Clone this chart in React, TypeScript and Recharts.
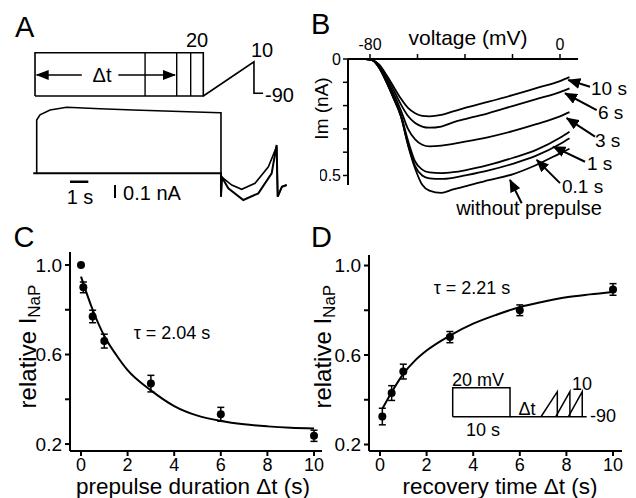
import React from 'react';
import {
  LineChart, Line, ComposedChart, Scatter, ErrorBar, XAxis, YAxis, ReferenceLine,
} from 'recharts';

const FONT = '"Liberation Sans", Arial, Helvetica, sans-serif';
const INK = '#000';

// ---- A: protocol schematic (schematic time units, mV) ----
const protoBoxX = [0, 0, 10, 10, 0];
const protoBoxY = [-90, 20, 20, -90, -90];
const prepulseStops = [6.54, 8.42, 9.25];
const rampX = [10, 13.01, 13.01, 13.55];
const rampY = [-90, -3, -83, -83];

// ---- A: current traces (s, nA) ----
const withPreT = [0, 0, 0.18, 0.73, 1.64, 3.46, 5.28, 7.83, 10.02, 10.07, 10.07, 10.12, 10.66, 11.2, 11.93, 12.66, 13.11, 13.17, 13.4, 13.66];
const withPreI = [0, 0.41, 0.45, 0.487, 0.508, 0.497, 0.487, 0.475, 0.466, 0.466, -0.18, -0.03, -0.09, -0.123, -0.077, 0.05, 0.205, -0.18, -0.103, -0.09];
const noPreT = [-0.19, 10.07, 10.07, 10.12, 10.47, 11.29, 12.11, 12.84, 13.11, 13.17, 13.4, 13.66];
const noPreI = [0, 0, -0.18, -0.03, -0.115, -0.205, -0.154, 0, 0.218, -0.18, -0.103, -0.09];

// ---- B: ramp currents (mV, nA shown downward) ----
const rampV = [-89, -82, -79, -76, -73, -70, -67, -64, -61, -58, -55, -50, -45, -40, -30, -20, -10, 0, 4];
const im10s = [0, 0, 0.005, 0.025, 0.07, 0.12, 0.17, 0.21, 0.233, 0.244, 0.246, 0.24, 0.225, 0.21, 0.183, 0.155, 0.125, 0.095, 0.078];
const im6s = [0, 0, 0.005, 0.03, 0.08, 0.135, 0.195, 0.245, 0.275, 0.29, 0.295, 0.29, 0.272, 0.258, 0.232, 0.202, 0.172, 0.142, 0.126];
const im3s = [0, 0, 0.005, 0.035, 0.09, 0.15, 0.22, 0.3, 0.345, 0.368, 0.375, 0.372, 0.364, 0.355, 0.335, 0.31, 0.28, 0.246, 0.228];
const im1s = [0, 0, 0.005, 0.04, 0.1, 0.165, 0.24, 0.35, 0.44, 0.475, 0.487, 0.49, 0.486, 0.478, 0.455, 0.425, 0.39, 0.338, 0.312];
const im01s = [0, 0, 0.005, 0.04, 0.1, 0.17, 0.245, 0.365, 0.46, 0.5, 0.512, 0.515, 0.51, 0.5, 0.478, 0.45, 0.415, 0.365, 0.34];
const imNoPre = [0, 0, 0.005, 0.04, 0.1, 0.17, 0.246, 0.37, 0.47, 0.54, 0.565, 0.575, 0.56, 0.547, 0.52, 0.495, 0.455, 0.405, 0.385];

const arrowTailV = [12.63, 15.45, 14.74, 10.53, 0, -16.13];
const arrowTailI = [0.119, 0.219, 0.333, 0.441, 0.533, 0.619];
const arrowTipV = [3.49, 2.11, 2.82, -2.82, -9.81, -21.05];
const arrowTipI = [0.09, 0.147, 0.254, 0.376, 0.433, 0.519];

// ---- C: inactivation vs prepulse duration ----
const durC = [0, 0.1, 0.5, 1, 3, 6, 10];
const relC = [1.0, 0.9, 0.77, 0.66, 0.47, 0.333, 0.237];
const semC = [0, 0.024, 0.028, 0.031, 0.037, 0.031, 0.025];
const fitCt = [0, 0.5, 1, 1.5, 2, 3, 4, 5, 6, 7, 8, 9, 10];
const fitCv = [0.948, 0.8, 0.683, 0.6, 0.53, 0.44, 0.37, 0.327, 0.303, 0.288, 0.279, 0.273, 0.27];

// ---- D: recovery ----
const recD = [0.1, 0.5, 1, 3, 6, 10];
const relD = [0.325, 0.43, 0.526, 0.68, 0.8, 0.893];
const semD = [0.037, 0.033, 0.033, 0.025, 0.024, 0.026];
const fitDt = [0.1, 0.5, 1, 1.5, 2, 3, 4, 5, 6, 7, 8, 9, 10];
const fitDv = [0.36, 0.434, 0.516, 0.575, 0.62, 0.687, 0.74, 0.78, 0.814, 0.838, 0.858, 0.871, 0.882];

// D inset protocol, drawn in D's axes
const insetBoxX = [3.12, 3.12, 5.58, 5.58, 3.12];
const insetBoxY = [0.324, 0.454, 0.454, 0.324, 0.324];
const insetBaseX = [5.58, 8.87];
const insetRampStart = [6.91, 7.54, 8.08];
const insetRampEnd = [7.61, 8.15, 8.68];

const xy = (xs: number[], ys: number[]) => xs.map((x, i) => ({ x, y: ys[i] }));
const pts = (xs: number[], ys: number[], es: number[]) => xs.map((x, i) => ({ x, y: ys[i], err: es[i] }));

const seg = (data: any[], w = 1.6, extra: any = {}) => (
  <Line data={data} dataKey="y" type="linear" stroke={INK} strokeWidth={w} dot={false}
    isAnimationActive={false} legendType="none" {...extra} />
);

const DotShape = (p: any) => <circle cx={p.cx} cy={p.cy} r={4} fill={INK} />;

const xTickFont = { fontSize: 18, fill: INK, fontFamily: FONT };
const yTickFont = { fontSize: 19, fill: INK, fontFamily: FONT };
const axisStroke = { stroke: INK, strokeWidth: 2 };
const showY = (v: number) => (v === 0.2 || v === 0.6 || v === 1 ? v.toFixed(1) : '');

const Txt = ({ x, y, size, anchor = 'middle', rotate = 0, children }: any) => (
  <text
    x={rotate ? 0 : x}
    y={rotate ? 0 : y}
    transform={rotate ? `translate(${x},${y}) rotate(${rotate})` : undefined}
    fontSize={size}
    fontFamily={FONT}
    textAnchor={anchor}
    fill={INK}
  >
    {children}
  </text>
);

const PanelA = () => (
  <>
    <div style={{ position: 'absolute', left: 0, top: 30 }}>
      <LineChart width={320} height={80} margin={{ top: 0, right: 0, bottom: 0, left: 0 }}>
        <XAxis type="number" dataKey="x" domain={[-2.08, 16.934]} hide />
        <YAxis type="number" dataKey="y" domain={[-125.57, 77.7]} hide />
        {seg(xy(protoBoxX, protoBoxY), 1.6)}
        {prepulseStops.map((s) => (
          <React.Fragment key={s}>{seg(xy([s, s], [-90, 20]), 1.4)}</React.Fragment>
        ))}
        {seg(xy(rampX, rampY), 1.6)}
        {seg(xy([0.1, 2.78], [-36.6, -36.6]), 1.6, { markerStart: 'url(#headStart)' })}
        {seg(xy([4.95, 8.32], [-36.6, -36.6]), 1.6, { markerEnd: 'url(#head)' })}
      </LineChart>
    </div>
    <div style={{ position: 'absolute', left: 0, top: 100 }}>
      <LineChart width={320} height={120} margin={{ top: 0, right: 0, bottom: 0, left: 0 }}>
        <XAxis type="number" dataKey="x" domain={[-2.0055, 15.481]} hide />
        <YAxis type="number" dataKey="y" domain={[-0.359, 0.5638]} hide />
        {seg(xy(noPreT, noPreI), 2)}
        {seg(xy(withPreT, withPreI), 1.6)}
        {seg(xy([1.82, 2.82], [-0.065, -0.065]), 2.5)}
        {seg(xy([4.28, 4.28], [-0.09, -0.19]), 2)}
      </LineChart>
    </div>
  </>
);

const PanelB = () => {
  const series = [im10s, im6s, im3s, im1s, im01s, imNoPre];
  return (
    <div style={{ position: 'absolute', left: 320, top: 0 }}>
      <LineChart width={316} height={240} margin={{ top: 0, right: 0, bottom: 0, left: 0 }}>
        <XAxis
          type="number" dataKey="x" orientation="top" domain={[-89.26, 32]}
          ticks={[-80, -60, -40, -20, 0]} interval={0}
          tickFormatter={(v: number) => (v === -80 || v === 0 ? String(v) : '')}
          axisLine={false} tickLine={{ stroke: INK, strokeWidth: 1.5 }}
          tickSize={5} tickMargin={4} height={59}
          tick={{ fontSize: 16, fill: INK, fontFamily: FONT }}
        />
        <YAxis
          type="number" dataKey="y" reversed domain={[0, 0.777]}
          ticks={[0, 0.1, 0.2, 0.3, 0.4, 0.5]} interval={0}
          tickFormatter={(v: number) => (v === 0 ? '0' : v === 0.5 ? '0.5' : '')}
          axisLine={false} tickLine={{ stroke: INK, strokeWidth: 1.5 }}
          tickSize={5} tickMargin={2} width={28}
          tick={{ fontSize: 16, fill: INK, fontFamily: FONT }}
        />
        <ReferenceLine segment={[{ x: -89.26, y: 0 }, { x: 7.6, y: 0 }]} stroke={INK} strokeWidth={2} ifOverflow="visible" />
        <ReferenceLine segment={[{ x: -89.26, y: 0 }, { x: -89.26, y: 0.541 }]} stroke={INK} strokeWidth={2} ifOverflow="visible" />
        {series.map((s, i) => (
          <Line key={i} data={xy(rampV, s)} dataKey="y" type="monotone" stroke={INK}
            strokeWidth={1.8} dot={false} isAnimationActive={false} />
        ))}
        {arrowTipV.map((v, i) => (
          <React.Fragment key={'a' + i}>
            {seg(xy([arrowTailV[i], v], [arrowTailI[i], arrowTipI[i]]), 2, { markerEnd: 'url(#headB)' })}
          </React.Fragment>
        ))}
      </LineChart>
    </div>
  );
};

const PanelC = () => (
  <div style={{ position: 'absolute', left: 0, top: 240 }}>
    <ComposedChart width={324} height={258} margin={{ top: 12, right: 2, bottom: 0, left: 0 }}>
      <XAxis type="number" dataKey="x" domain={[-0.472, 10.343]} ticks={[0, 2, 4, 6, 8, 10]}
        interval={0} height={47} tickSize={5} tickMargin={2}
        axisLine={axisStroke} tickLine={axisStroke} tick={xTickFont} />
      <YAxis type="number" dataKey="y" domain={[0.169, 1.058]} ticks={[0.2, 0.4, 0.6, 0.8, 1]}
        interval={0} tickFormatter={showY} width={70} tickSize={5} tickMargin={3}
        axisLine={axisStroke} tickLine={axisStroke} tick={yTickFont} />
      <Line data={xy(fitCt, fitCv)} dataKey="y" type="monotone" stroke={INK} strokeWidth={2}
        dot={false} isAnimationActive={false} />
      <Scatter data={pts(durC, relC, semC)} shape={DotShape} isAnimationActive={false}>
        <ErrorBar dataKey="err" direction="y" width={3.5} stroke={INK} strokeWidth={1.5} isAnimationActive={false} />
      </Scatter>
    </ComposedChart>
  </div>
);

const PanelD = () => (
  <div style={{ position: 'absolute', left: 320, top: 240 }}>
    <ComposedChart width={316} height={258} margin={{ top: 15, right: 14, bottom: 0, left: 0 }}>
      <XAxis type="number" dataKey="x" domain={[-0.472, 10.386]} ticks={[0, 2, 4, 6, 8, 10]}
        interval={0} height={47} tickSize={5} tickMargin={2}
        axisLine={axisStroke} tickLine={axisStroke} tick={xTickFont} />
      <YAxis type="number" dataKey="y" domain={[0.171, 1.047]} ticks={[0.2, 0.4, 0.6, 0.8, 1]}
        interval={0} tickFormatter={showY} width={49} tickSize={5} tickMargin={3}
        axisLine={axisStroke} tickLine={axisStroke} tick={yTickFont} />
      <Line data={xy(fitDt, fitDv)} dataKey="y" type="monotone" stroke={INK} strokeWidth={2}
        dot={false} isAnimationActive={false} />
      <Scatter data={pts(recD, relD, semD)} shape={DotShape} isAnimationActive={false}>
        <ErrorBar dataKey="err" direction="y" width={3.5} stroke={INK} strokeWidth={1.5} isAnimationActive={false} />
      </Scatter>
      {seg(xy(insetBoxX, insetBoxY), 1.5)}
      {seg(xy(insetBaseX, [0.324, 0.324]), 1.5)}
      {insetRampStart.map((s, i) => (
        <React.Fragment key={'r' + i}>
          {seg(xy([s, insetRampEnd[i], insetRampEnd[i]], [0.324, 0.436, 0.324]), 1.5)}
        </React.Fragment>
      ))}
    </ComposedChart>
  </div>
);

const Overlay = () => (
  <svg width={636} height={498} style={{ position: 'absolute', left: 0, top: 0, pointerEvents: 'none' }}>
    <defs>
      <marker id="head" viewBox="0 0 13 10" refX={12} refY={5} markerWidth={13} markerHeight={10}
        markerUnits="userSpaceOnUse" orient="auto">
        <path d="M0,0 L13,5 L0,10 Z" fill={INK} />
      </marker>
      <marker id="headStart" viewBox="0 0 13 10" refX={12} refY={5} markerWidth={13} markerHeight={10}
        markerUnits="userSpaceOnUse" orient="auto-start-reverse">
        <path d="M0,0 L13,5 L0,10 Z" fill={INK} />
      </marker>
      <marker id="headB" viewBox="0 0 13 11" refX={12} refY={5.5} markerWidth={13} markerHeight={11}
        markerUnits="userSpaceOnUse" orient="auto">
        <path d="M0,0 L13,5.5 L0,11 Z" fill={INK} />
      </marker>
    </defs>

    <Txt x={15} y={37} size={29} anchor="start">A</Txt>
    <Txt x={311} y={33.5} size={29} anchor="start">B</Txt>
    <Txt x={13.5} y={246.5} size={29} anchor="start">C</Txt>
    <Txt x={311} y={246.5} size={29} anchor="start">D</Txt>

    <Txt x={197} y={47} size={20}>20</Txt>
    <Txt x={262} y={57} size={20}>10</Txt>
    <Txt x={265} y={102} size={20} anchor="start">-90</Txt>
    <Txt x={102} y={82} size={20}>Δt</Txt>
    <Txt x={80} y={204} size={20}>1 s</Txt>
    <Txt x={152} y={200} size={20}>0.1 nA</Txt>

    <Txt x={468} y={45} size={21}>voltage (mV)</Txt>
    <Txt x={328} y={108.5} size={19} rotate={-90}>Im (nA)</Txt>
    <Txt x={591} y={94.5} size={19} anchor="start">10 s</Txt>
    <Txt x={598} y={118.5} size={19} anchor="start">6 s</Txt>
    <Txt x={595} y={146.8} size={19} anchor="start">3 s</Txt>
    <Txt x={587} y={170} size={19} anchor="start">1 s</Txt>
    <Txt x={562} y={192.6} size={19} anchor="start">0.1 s</Txt>
    <Txt x={529} y={215} size={20}>without prepulse</Txt>

    <Txt x={172} y={339} size={18}>τ = 2.04 s</Txt>
    <Txt x={193} y={494} size={22.5}>prepulse duration Δt (s)</Txt>
    <Txt x={35.5} y={346.5} size={24} rotate={-90}>
      relative I<tspan fontSize={17} dy={4}>NaP</tspan>
    </Txt>

    <Txt x={472} y={293.5} size={18}>τ = 2.21 s</Txt>
    <Txt x={500} y={494} size={22.5}>recovery time Δt (s)</Txt>
    <Txt x={331} y={346.7} size={24} rotate={-90}>
      relative I<tspan fontSize={17} dy={4}>NaP</tspan>
    </Txt>
    <Txt x={478} y={386} size={18}>20 mV</Txt>
    <Txt x={483} y={436} size={18}>10 s</Txt>
    <Txt x={527} y={415} size={18}>Δt</Txt>
    <Txt x={582} y={390} size={18}>10</Txt>
    <Txt x={590} y={421.5} size={18} anchor="start">-90</Txt>
  </svg>
);

export default function App() {
  return (
    <div style={{ position: 'absolute', left: 0, top: 0, width: 636, height: 498, background: '#fff', overflow: 'hidden', fontFamily: FONT }}>
      <PanelA />
      <PanelB />
      <PanelC />
      <PanelD />
      <Overlay />
    </div>
  );
}
